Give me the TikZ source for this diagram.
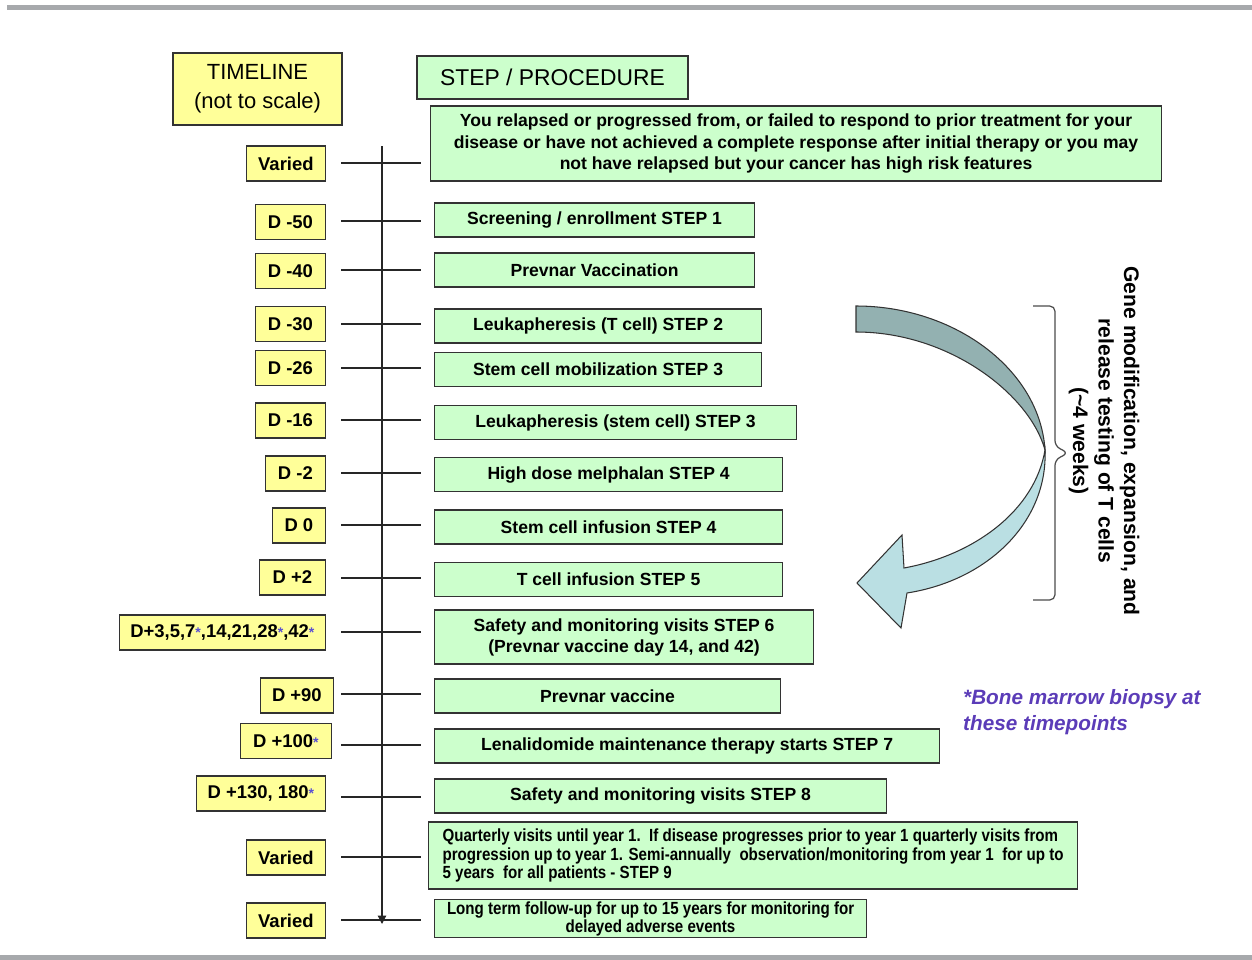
\documentclass[tikz,border=0pt]{standalone}
\usepackage{xcolor}
\usepackage{fontspec}
\setmainfont{Liberation Sans}
\newfontfamily\narrowfont[FakeStretch=0.86]{Liberation Sans}
\usepackage{tikz}
\usetikzlibrary{arrows.meta}
\definecolor{tyellow}{HTML}{FFFF99}
\definecolor{sgreen}{HTML}{CCFFCC}
\definecolor{bframe}{HTML}{333333}
\definecolor{rulegrey}{HTML}{A7A9AC}
\definecolor{astblue}{HTML}{5A50D2}
\definecolor{notepurple}{HTML}{5B3CB8}
\definecolor{arrdark}{HTML}{93B1B1}
\definecolor{arrlight}{HTML}{BADFE3}
\newcommand{\bmast}{\textcolor{astblue}{\fontsize{8}{8}\selectfont *}}

\begin{document}
\begin{tikzpicture}[x=0.02cm,y=-0.02cm,
  tbox/.style={draw=bframe,fill=tyellow,line width=0.7pt,anchor=east,minimum height=0.7cm,inner xsep=0.2cm,font=\fontsize{10.5}{13}\selectfont\bfseries},
  sbox/.style={draw=bframe,fill=sgreen,line width=0.7pt,anchor=west,minimum height=0.68cm,align=center,font=\fontsize{10}{12}\selectfont\bfseries},
  tick/.style={line width=0.7pt,draw=black!85}]
  \useasboundingbox (0,0) rectangle (1252,960);
  \fill[rulegrey] (7,5) rectangle (1252,10);
  \fill[rulegrey] (0,955) rectangle (1252,960);

  \node[draw=bframe,fill=tyellow,line width=0.7pt,minimum width=3.38cm,minimum height=1.44cm,align=center,font=\fontsize{12.5}{16.5}\selectfont] (timeline) at (257.5,89) {TIMELINE\\(not to scale)};
  \node[draw=bframe,fill=sgreen,line width=0.7pt,minimum width=5.42cm,minimum height=0.86cm,font=\fontsize{13}{15}\selectfont] (steps) at (552.5,77.5) {STEP / PROCEDURE};

  \coordinate (axtop) at (382,146);
  \coordinate (axbot) at (382,924);
  \draw[tick,-{Triangle[length=0.17cm,width=0.17cm]}] (axtop) -- (axbot);
  \foreach \y [count=\i] in {163,221,270,324,368,420,473,525,578,632,694,745,797,857,920} {
    \coordinate (tl\i) at (341,\y);
    \coordinate (tr\i) at (421,\y);
    \draw[tick] (tl\i) -- (tr\i);
  }

  \node[tbox,minimum width=1.58cm] (t1) at (326,163.5) {Varied};
  \node[tbox,minimum width=1.4cm] (t2) at (326,222) {D -50};
  \node[tbox,minimum width=1.4cm] (t3) at (326,271) {D -40};
  \node[tbox,minimum width=1.4cm] (t4) at (326,324) {D -30};
  \node[tbox,minimum width=1.4cm] (t5) at (326,368) {D -26};
  \node[tbox,minimum width=1.4cm] (t6) at (326,420.5) {D -16};
  \node[tbox,minimum width=1.2cm] (t7) at (326,473.5) {D -2};
  \node[tbox,minimum width=1.06cm] (t8) at (326,525.5) {D 0};
  \node[tbox,minimum width=1.32cm] (t9) at (326,577.5) {D +2};
  \node[tbox,minimum width=4.12cm,inner xsep=0.1cm] (t10) at (326,632.5) {D+3,5,7\bmast,14,21,28\bmast,42\bmast};
  \node[tbox,minimum width=1.46cm] (t11) at (334,695.5) {D +90};
  \node[tbox,minimum width=1.82cm] (t12) at (332,741) {D +100\bmast};
  \node[tbox,minimum width=2.58cm] (t13) at (326,793.5) {D +130, 180\bmast};
  \node[tbox,minimum width=1.58cm] (t14) at (326,857.5) {Varied};
  \node[tbox,minimum width=1.58cm] (t15) at (326,920.5) {Varied};

  \node[sbox,minimum width=14.62cm,minimum height=1.5cm] (s1) at (430,143.5) {You relapsed or progressed from, or failed to respond to prior treatment for your\\disease or have not achieved a complete response after initial therapy or you may\\not have relapsed but your cancer has high risk features};
  \node[sbox,minimum width=6.4cm] (s2) at (434,220) {Screening / enrollment STEP 1};
  \node[sbox,minimum width=6.4cm] (s3) at (434,270) {Prevnar Vaccination};
  \node[sbox,minimum width=6.54cm] (s4) at (434,326) {Leukapheresis (T cell) STEP 2};
  \node[sbox,minimum width=6.54cm] (s5) at (434,369.5) {Stem cell mobilization STEP 3};
  \node[sbox,minimum width=7.24cm] (s6) at (434,422.5) {Leukapheresis (stem cell) STEP 3};
  \node[sbox,minimum width=6.96cm] (s7) at (434,474.5) {High dose melphalan STEP 4};
  \node[sbox,minimum width=6.96cm] (s8) at (434,527) {Stem cell infusion STEP 4};
  \node[sbox,minimum width=6.96cm] (s9) at (434,579.5) {T cell infusion STEP 5};
  \node[sbox,minimum width=7.58cm,minimum height=1.08cm] (s10) at (434,637) {Safety and monitoring visits STEP 6\\(Prevnar vaccine day 14, and 42)};
  \node[sbox,minimum width=6.92cm] (s11) at (434,696) {Prevnar vaccine};
  \node[sbox,minimum width=10.1cm] (s12) at (434,746) {Lenalidomide maintenance therapy starts STEP 7};
  \node[sbox,minimum width=9.04cm] (s13) at (434,796) {Safety and monitoring visits STEP 8};
  \node[sbox,minimum width=12.98cm,minimum height=1.34cm,align=left,font=\narrowfont\fontsize{10}{10.3}\selectfont\bfseries] (s14) at (428,855.5) {Quarterly visits until year 1.\ \ If disease progresses prior to year 1 quarterly visits from\\progression up to year 1. Semi-annually\ \ observation/monitoring from year 1\ \ for up to\\5 years\ \ for all patients - STEP 9};
  \node[sbox,minimum width=8.64cm,minimum height=0.74cm,inner ysep=1pt,font=\narrowfont\fontsize{10}{10.3}\selectfont\bfseries] (s15) at (434,918.5) {Long term follow-up for up to 15 years for monitoring for\\delayed adverse events};

  \filldraw[fill=arrdark,draw=black!80,line width=0.6pt] (856,306) .. controls (955,306) and (1040,370) .. (1045,450) .. controls (1030,395) and (950,332) .. (856,332) -- cycle;
  \filldraw[fill=arrlight,draw=black!80,line width=0.6pt] (1045,450) .. controls (1048,520) and (990,580) .. (907,593) -- (901,628) -- (857,583) -- (902,535) -- (904,568) .. controls (975,555) and (1035,510) .. (1045,450) -- cycle;
  \draw[line width=0.7pt,draw=black!70,rounded corners=3] (1033,306) -- (1055,306) -- (1055,446) -- (1068,453) -- (1055,460) -- (1055,600) -- (1033,600);
  \node[rotate=-90,align=center,font=\fontsize{12}{14.5}\selectfont\bfseries] (genemod) at (1104,441) {Gene modification, expansion, and\\release testing of T cells\\(\textasciitilde4 weeks)};

  \node[anchor=west,align=left,text=notepurple,font=\fontsize{11.8}{14.7}\selectfont\bfseries\itshape] (bmnote) at (957,712) {*Bone marrow biopsy at\\these timepoints};
\end{tikzpicture}
\end{document}
